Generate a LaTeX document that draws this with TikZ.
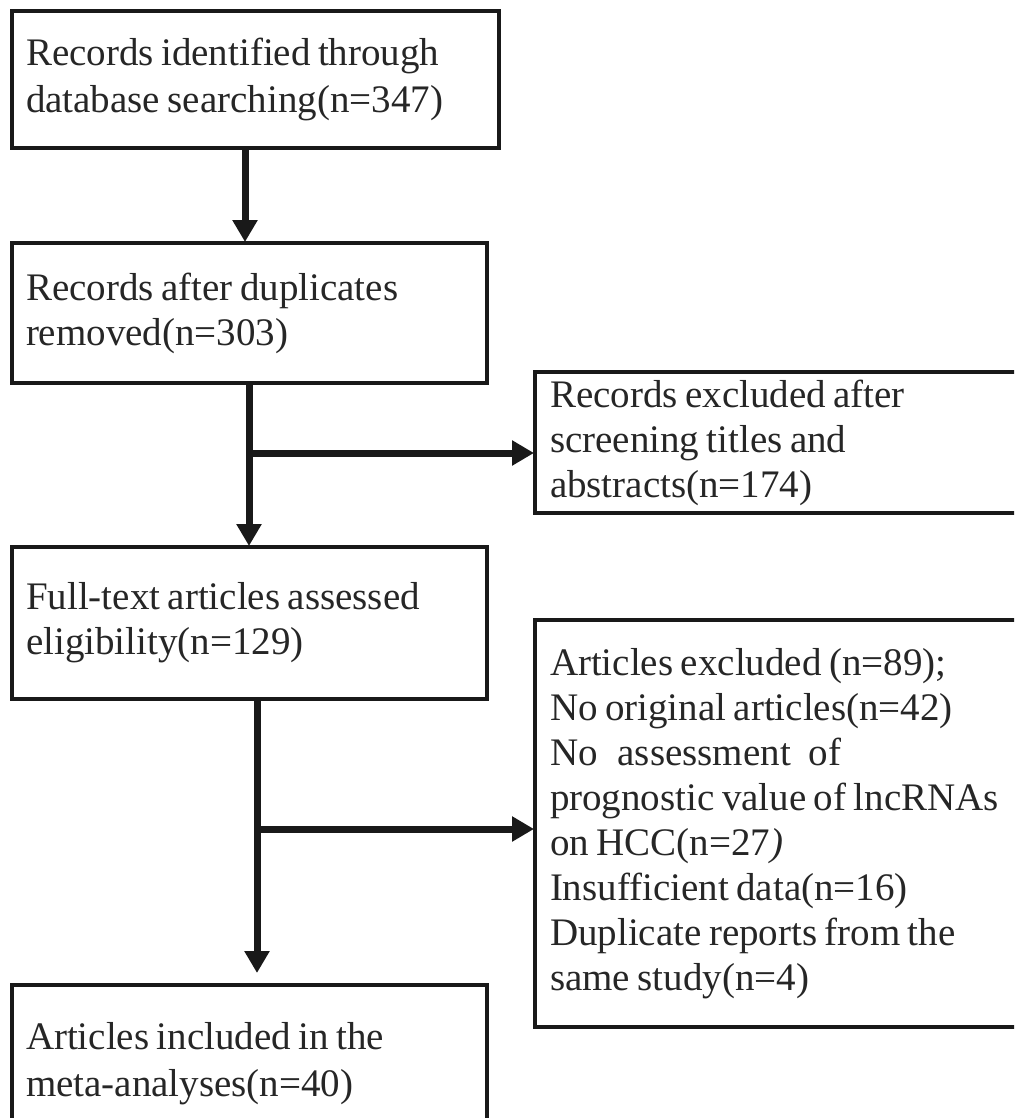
\documentclass[tikz,border=0pt]{standalone}
\usepackage{fontspec}
\setmainfont{Liberation Serif}
\usetikzlibrary{arrows.meta}
\newcommand\bxsp{\spaceskip=0.19em plus 0.05em\relax}
\begin{document}
\begin{tikzpicture}[x=1pt,y=-1pt,
  box/.style={draw=black!90, line width=4pt, outer sep=0pt, inner xsep=14pt, inner ysep=0pt,
    anchor=north west, align=left, font=\fontsize{39}{45}\selectfont, text=black!85},
  tallbox/.style={box, font=\fontsize{39}{47}\selectfont},
  flow/.style={line width=7pt, draw=black!90, -{Triangle[length=22pt,width=24pt]}}]
\useasboundingbox (0,0) rectangle (1014,1118);
\clip (0,0) rectangle (1014,1118);
\node[tallbox, minimum width=487pt, minimum height=137pt, text width=459pt] (b1) at (12,11)
  {\bxsp Records identified through\\database searching(n=347)};
\node[box, minimum width=475pt, minimum height=140pt, text width=447pt] (b2) at (12,243)
  {\bxsp Records after duplicates\\removed(n=303)};
\node[box, inner xsep=15pt, minimum width=510pt, minimum height=141pt, text width=480pt] (b3) at (535,372)
  {\bxsp Records excluded after\\screening titles and\\abstracts(n=174)};
\node[box, minimum width=475pt, minimum height=152pt, text width=447pt] (b4) at (12,547)
  {\bxsp Full-text articles assessed\\eligibility(n=129)};
\node[box, inner xsep=15pt, minimum width=510pt, minimum height=407pt, text width=480pt] (b5) at (535,620)
  {\bxsp Articles excluded (n=89);\\No original articles(n=42)\\No\hspace{20pt}assessment\hspace{18pt}of\\prognostic value of lncRNAs\\on HCC(n=27\textit{)}\\Insufficient data(n=16)\\Duplicate reports from the\\same study(n=4)};
\node[tallbox, minimum width=475pt, minimum height=158pt, text width=447pt] (b6) at (12,985)
  {\bxsp Articles included in the\\meta-analyses(n=40)};
\coordinate (v1) at (245,0);
\coordinate (v2) at (249,0);
\coordinate (v3) at (257,0);
\coordinate (h1) at (253,453);
\coordinate (h2) at (261,829);
\draw[flow, shorten >=1pt] (b1.south -| v1) -- (b2.north -| v1);
\draw[flow, shorten >=1pt] (b2.south -| v2) -- (b4.north -| v2);
\draw[flow, shorten >=12pt] (b4.south -| v3) -- (b6.north -| v3);
\draw[flow, shorten >=1pt] (h1) -- (h1 -| b3.west);
\draw[flow, shorten >=1pt] (h2) -- (h2 -| b5.west);
\end{tikzpicture}
\end{document}
